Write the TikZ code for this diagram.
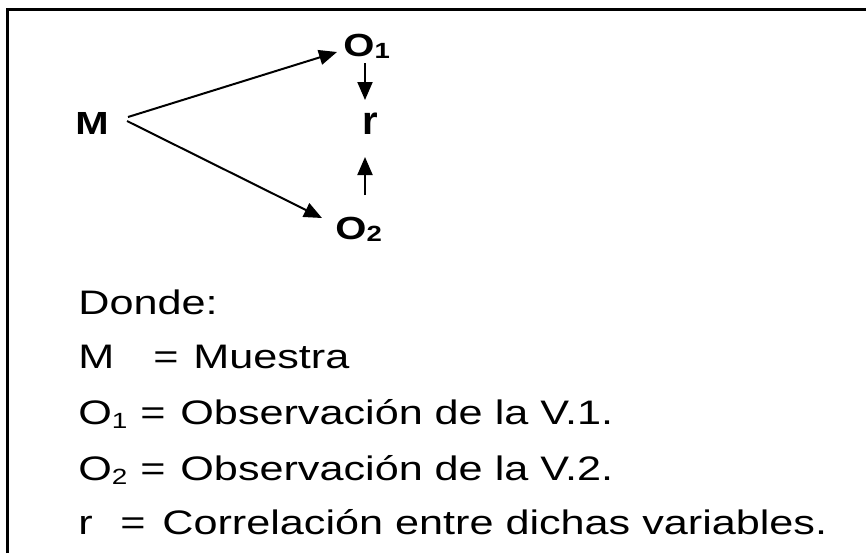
\documentclass[tikz,border=0pt]{standalone}
\usepackage{fontspec}
\setmainfont{Liberation Sans}
\newfontfamily\stretchsans[FakeStretch=1.27]{Liberation Sans}
\newfontfamily\boldstretch[FakeStretch=1.25]{Liberation Sans}
\usetikzlibrary{arrows.meta,calc}
\tikzset{
  lbl/.style={font=\boldstretch\bfseries\fontsize{16pt}{16pt}\selectfont, inner sep=0pt, anchor=base west},
  txt/.style={font=\stretchsans\fontsize{17pt}{17pt}\selectfont, inner sep=0pt, anchor=base west},
  arr/.style={line width=1pt, -{Triangle[length=9pt,width=7.5pt]}},
}
\newcommand{\topsub}[1]{\raisebox{-1pt}{\fontsize{11pt}{11pt}\selectfont #1}}
\newcommand{\txtsub}[1]{\raisebox{-2pt}{\fontsize{11pt}{11pt}\selectfont #1}}
\begin{document}
\begin{tikzpicture}[x=0.5pt,y=-0.5pt]
\useasboundingbox (0,0) rectangle (866,553);
\draw[line width=1.5pt] (7,553) -- (7,9) -- (866,9);
% diagram
\node[lbl] (M) at (75,134) {M};
\node[lbl] (O1) at (343,56) {O\topsub{1}};
\node[lbl] (O2) at (335,239) {O\topsub{2}};
\node[lbl, font=\bfseries\fontsize{20pt}{20pt}\selectfont] (r) at (362,134) {r};
\draw[arr] ($(M.base west)+(53,-17)$) -- ($(O1.base west)+(-6,-4)$);
\draw[arr] ($(M.base west)+(52,-13)$) -- ($(O2.base west)+(-13,-21)$);
\draw[arr] ($(O1.base west)+(22,7)$) -- ($(r.base west)+(3,-34)$);
\draw[arr] ($(O2.base west)+(30,-44)$) -- ($(r.base west)+(3,23)$);
% legend
\node[txt] (don) at (78,314) {Donde:};
\node[txt] (kM) at (78,368) {M};
\node[txt] (eM) at (153,368) {=};
\node[txt] (dM) at (193,368) {Muestra};
\node[txt] (kO1) at (78,424) {O\txtsub{1}};
\node[txt] (eO1) at (140,424) {=};
\node[txt] (dO1) at (180,424) {Observación de la V.1.};
\node[txt] (kO2) at (78,480) {O\txtsub{2}};
\node[txt] (eO2) at (140,480) {=};
\node[txt] (dO2) at (180,480) {Observación de la V.2.};
\node[txt] (kr) at (78,534) {r};
\node[txt] (er) at (120,534) {=};
\node[txt] (dr) at (162,534) {Correlación entre dichas variables.};
\end{tikzpicture}
\end{document}
